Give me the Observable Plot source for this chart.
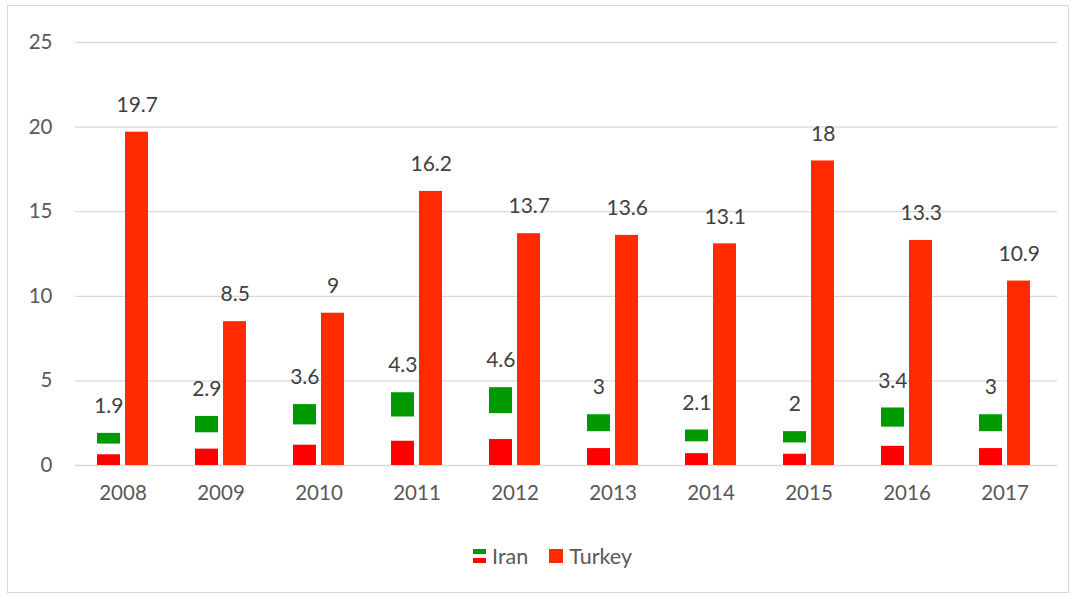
<!DOCTYPE html>
<html>
<head>
<meta charset="utf-8">
<script src="https://cdn.jsdelivr.net/npm/d3@7"></script>
<script src="https://cdn.jsdelivr.net/npm/@observablehq/plot@0.6"></script>
<style>
  html, body { margin: 0; padding: 0; background: #fff; }
  body { width: 1075px; height: 597px; position: relative; overflow: hidden; font-family: Lato, "Open Sans", sans-serif; }
  #frame { position: absolute; left: 7px; top: 5px; width: 1062px; height: 588px; border: 1px solid #d9d9d9; box-sizing: border-box; }
  #chart { position: absolute; left: 0; top: 0; }
  #legend { position: absolute; left: 0; top: 542px; width: 1075px; height: 28px; display: flex; justify-content: center; align-items: center; gap: 21px; font-size: 21.5px; color: #595959; padding-left: 30px; box-sizing: border-box; }
  .item { display: flex; align-items: center; gap: 6px; }
  .flag { width: 13px; height: 14px; display: flex; flex-direction: column; }
  .flag span { flex: 1; }
  .sq { width: 14px; height: 14px; background: #ff2a00; }
</style>
</head>
<body>
<div id="frame"></div>
<div id="chart"></div>
<div id="legend">
  <div class="item"><div class="flag"><span style="background:#009a00"></span><span style="background:#fff"></span><span style="background:#ff0000"></span></div><span>Iran</span></div>
  <div class="item"><div class="sq"></div><span>Turkey</span></div>
</div>
<script>
const years = ["2008","2009","2010","2011","2012","2013","2014","2015","2016","2017"];
const iran = [1.9, 2.9, 3.6, 4.3, 4.6, 3, 2.1, 2, 3.4, 3];
const turkey = [19.7, 8.5, 9, 16.2, 13.7, 13.6, 13.1, 18, 13.3, 10.9];
const yTicks = [0, 5, 10, 15, 20, 25];

const iranRows = years.map((y, i) => ({year: y, value: iran[i]}));
const turkeyRows = years.map((y, i) => ({year: y, value: turkey[i]}));

const green = "#009a00", red = "#ff0000", turkeyColor = "#ff2a00";
const inset = 28;
const shift = 14.2;

const chart = Plot.plot({
  width: 1075,
  height: 520,
  marginLeft: 75,
  marginRight: 18,
  marginTop: 42,
  marginBottom: 55,
  style: {fontFamily: "Lato, 'Open Sans', sans-serif", fontSize: "20px", color: "#595959", background: "transparent"},
  x: {domain: years, range: [72.5, 1054.5], paddingInner: 0.48, paddingOuter: 0.24, label: null},
  y: {domain: [0, 25], label: null},
  marks: [
    Plot.ruleY(yTicks, {stroke: "#d9d9d9", strokeWidth: 1.3}),
    Plot.axisY(yTicks, {tickSize: 0, tickPadding: 23, fontSize: 20.5, fill: "#595959", label: null}),
    Plot.axisX({tickSize: 0, tickPadding: 20, fontSize: 20.5, fill: "#595959", label: null}),
    // Iran bars as flag: red bottom third, white middle, green top third
    Plot.barY(iranRows, {x: "year", y1: 0, y2: d => d.value / 3, fill: red, insetRight: inset}),
    Plot.barY(iranRows, {x: "year", y1: d => d.value * 2 / 3, y2: d => d.value, fill: green, insetRight: inset}),
    Plot.barY(turkeyRows, {x: "year", y: "value", fill: turkeyColor, insetLeft: inset}),
    Plot.text(iranRows, {x: "year", y: "value", text: d => String(d.value), dx: -shift, dy: -27, fill: "#404040", fontSize: 21}),
    Plot.text(turkeyRows, {x: "year", y: "value", text: d => String(d.value), dx: shift, dy: -27, fill: "#404040", fontSize: 21})
  ]
});
document.getElementById("chart").appendChild(chart);
</script>
</body>
</html>
